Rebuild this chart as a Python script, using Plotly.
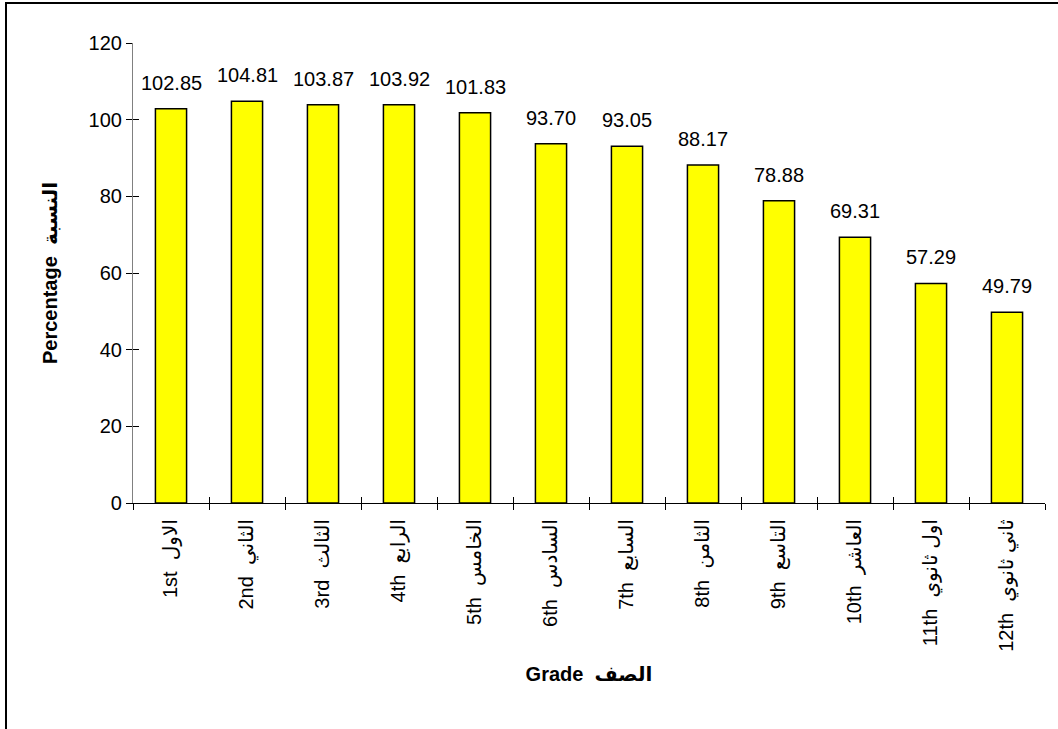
import plotly.graph_objects as go

categories = ["1st  الاول", "2nd  الثاني", "3rd  الثالث", "4th  الرابع", "5th  الخامس",
              "6th  السادس", "7th  السابع", "8th  الثامن", "9th  التاسع", "10th  العاشر",
              "11th  اول ثانوي", "12th  ثاني ثانوي"]
values = [102.85, 104.81, 103.87, 103.92, 101.83, 93.70, 93.05, 88.17, 78.88, 69.31, 57.29, 49.79]
y_ticks = [0, 20, 40, 60, 80, 100, 120]

W, H = 1058, 729
L, R, T, B = 133, 1045, 43, 503
FONT = "Liberation Sans, Arial, DejaVu Sans, sans-serif"
FS = 20
XR = [-0.5, len(categories) - 0.5]

fig = go.Figure()
fig.add_trace(go.Bar(
    x=categories, y=values,
    marker=dict(color="#FFFF00", line=dict(color="#000000", width=1.5)),
    width=0.41, hoverinfo="x+y", showlegend=False,
))
# invisible trace to activate overlay axes for crossing ticks
fig.add_trace(go.Scatter(x=categories, y=values, xaxis="x2", yaxis="y2",
                         mode="markers", marker=dict(opacity=0), hoverinfo="skip",
                         showlegend=False))

for c, v in zip(categories, values):
    fig.add_annotation(x=c, y=v, text=f"{v:.2f}", showarrow=False,
                       yanchor="bottom", yshift=13,
                       font=dict(family=FONT, size=FS, color="#000000"))

fig.update_layout(
    width=W, height=H,
    margin=dict(l=L, r=W - R, t=T, b=H - B, autoexpand=False),
    paper_bgcolor="white", plot_bgcolor="white",
    font=dict(family=FONT, size=FS, color="#000000"),
    xaxis=dict(
        type="category", categoryorder="array", categoryarray=categories,
        range=XR, autorange=False,
        showline=True, linecolor="#000000", linewidth=1.2,
        ticks="outside", ticklen=6, tickcolor="#000000", tickwidth=1,
        tickson="boundaries", tickangle=-90, showgrid=False, zeroline=False,
        tickfont=dict(family=FONT, size=FS), ticklabelstandoff=7,
        title=dict(text="<b>Grade  الصف</b>", font=dict(family=FONT, size=FS), standoff=16),
        automargin=False,
    ),
    xaxis2=dict(
        type="category", categoryorder="array", categoryarray=categories,
        range=XR, autorange=False,
        overlaying="x", matches="x", anchor="y", side="bottom",
        ticks="inside", ticklen=6, tickcolor="#000000", tickwidth=1,
        tickson="boundaries", showticklabels=False, showgrid=False, zeroline=False,
        showline=False,
    ),
    yaxis=dict(
        range=[0, 120], tickvals=y_ticks, ticktext=[str(t) for t in y_ticks],
        showline=True, linecolor="#808080", linewidth=1.2,
        ticks="outside", ticklen=6, tickcolor="#000000", tickwidth=1,
        showgrid=False, zeroline=False,
        tickfont=dict(family=FONT, size=FS),
        title=dict(text="<b>Percentage  النسبة</b>", font=dict(family=FONT, size=FS), standoff=25),
        automargin=False,
    ),
    yaxis2=dict(
        range=[0, 120], tickvals=y_ticks, overlaying="y", matches="y", anchor="x",
        ticks="inside", ticklen=6, tickcolor="#000000", tickwidth=1,
        showticklabels=False, showgrid=False, zeroline=False, showline=False,
    ),
    bargap=0.59,
)

# chart frame (extends beyond the right and bottom edges)
px_w, px_h = R - L, B - T
fig.add_shape(type="rect", xref="paper", yref="paper",
              x0=(6 - L) / px_w, x1=(W + 50 - L) / px_w,
              y0=(B - (H + 50)) / px_h, y1=(B - 3) / px_h,
              line=dict(color="#000000", width=2), fillcolor="rgba(0,0,0,0)", layer="below")

fig.write_html("out.html", config={"displayModeBar": False},
               post_script="document.body.style.margin='0';document.body.style.overflow='hidden';")
